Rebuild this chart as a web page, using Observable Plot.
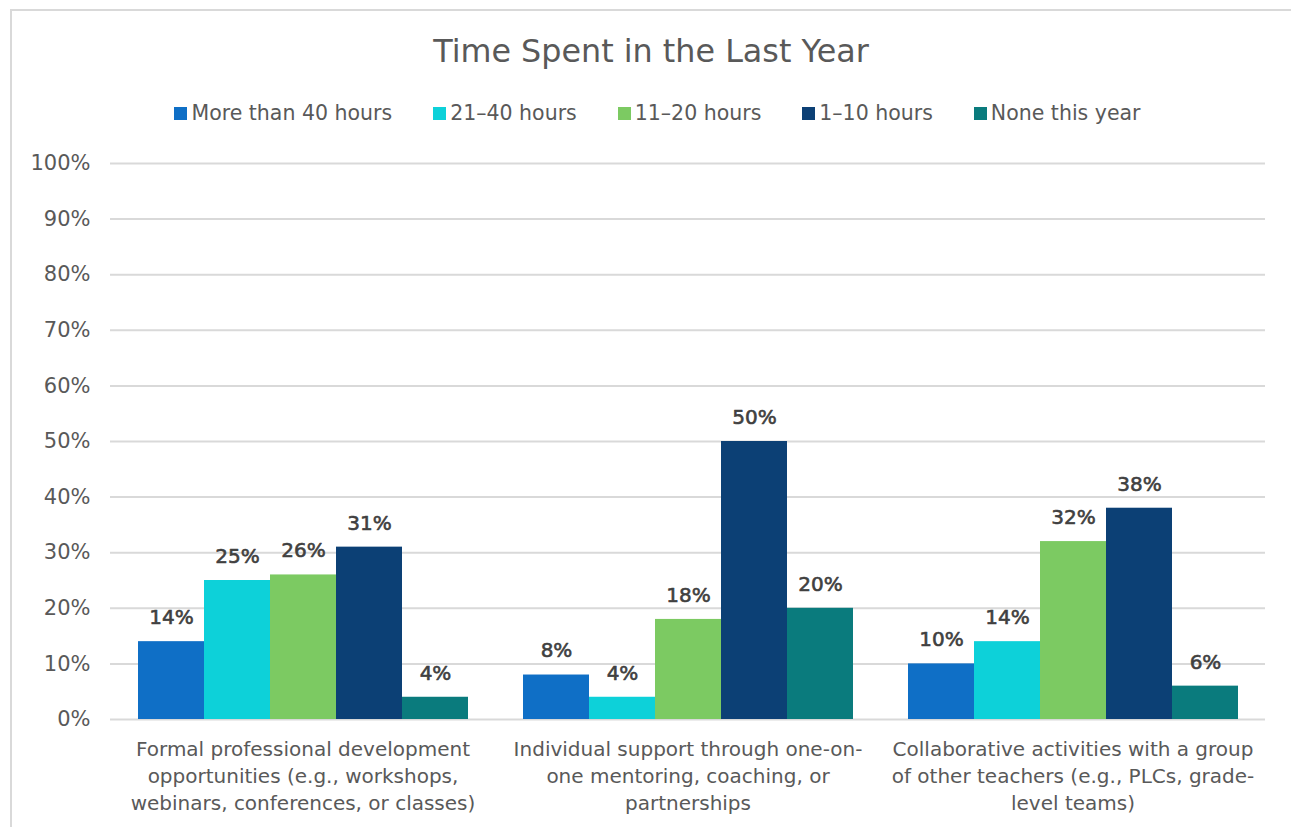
<!DOCTYPE html>
<html>
<head>
<meta charset="utf-8">
<script src="https://cdn.jsdelivr.net/npm/d3@7"></script>
<script src="https://cdn.jsdelivr.net/npm/@observablehq/plot@0.6"></script>
<style>
  html, body { margin: 0; padding: 0; background: #fff; }
  #wrap { position: relative; width: 1291px; height: 827px; overflow: hidden; font-family: 'DejaVu Sans', sans-serif; }
  #frame { position: absolute; left: 10px; top: 9px; width: 1300px; height: 830px; border-top: 2px solid #d9d9d9; border-left: 2px solid #d9d9d9; box-sizing: border-box; }
  #title { position: absolute; left: 11px; right: 0; top: 34px; line-height: 34px; font-size: 31.8px; color: #595959; text-align: center; }
  #legend { position: absolute; left: 24px; right: 0; top: 102px; display: flex; justify-content: center; gap: 41px; font-size: 20.5px; line-height: 22px; color: #595959; }
  #legend .item { display: flex; align-items: center; white-space: nowrap; }
  #legend .sw { width: 13px; height: 13px; margin-right: 4px; }
  #chart { position: absolute; left: 0; top: 140px; }
</style>
</head>
<body>
<div id="wrap">
  <div id="frame"></div>
  <div id="title">Time Spent in the Last Year</div>
  <div id="legend"></div>
  <div id="chart"></div>
</div>
<script>
const categories = [
  "Formal professional development\nopportunities (e.g., workshops,\nwebinars, conferences, or classes)",
  "Individual support through one-on-\none mentoring, coaching, or\npartnerships",
  "Collaborative activities with a group\nof other teachers (e.g., PLCs, grade-\nlevel teams)"
];
const series = ["More than 40 hours", "21–40 hours", "11–20 hours", "1–10 hours", "None this year"];
const formalValues = [0.14, 0.25, 0.26, 0.31, 0.04];
const individualValues = [0.08, 0.04, 0.18, 0.50, 0.20];
const collaborativeValues = [0.10, 0.14, 0.32, 0.38, 0.06];
const colors = ["#0F6FC6", "#0DD1D9", "#7CCA62", "#0C4075", "#0A7B7D"];
const yTicks = [0, 0.1, 0.2, 0.3, 0.4, 0.5, 0.6, 0.7, 0.8, 0.9, 1.0];

const valuesByCategory = [formalValues, individualValues, collaborativeValues];
const data = [];
categories.forEach((c, i) => {
  series.forEach((s, j) => data.push({category: c, series: s, value: valuesByCategory[i][j]}));
});

// legend
const legend = document.getElementById("legend");
series.forEach((s, i) => {
  const item = document.createElement("div");
  item.className = "item";
  const sw = document.createElement("span");
  sw.className = "sw";
  sw.style.background = colors[i];
  const label = document.createElement("span");
  label.textContent = s;
  item.append(sw, label);
  legend.append(item);
});

const fmt = d3.format(".0%");

const chart = Plot.plot({
  width: 1291,
  height: 687,
  marginTop: 23,
  marginBottom: 108,
  marginLeft: 110,
  marginRight: 26,
  style: {fontFamily: "'DejaVu Sans', sans-serif", fontSize: "20px", color: "#595959", background: "transparent"},
  fx: {domain: categories, padding: 0, axis: null},
  x: {domain: series, paddingInner: 0, paddingOuter: 0.38, axis: null},
  y: {domain: [0, 1], axis: null},
  color: {domain: series, range: colors},
  marks: [
    Plot.gridY(yTicks, {stroke: "#d9d9d9", strokeOpacity: 1, strokeWidth: 2}),
    Plot.axisY(yTicks, {anchor: "left", tickSize: 0, tickPadding: 20, tickFormat: fmt, label: null, fontSize: 21, fill: "#595959"}),
    Plot.barY(data, {fx: "category", x: "series", y: "value", fill: "series"}),
    Plot.text(data, {fx: "category", x: "series", y: "value", text: d => fmt(d.value), dy: -24, fontSize: 20, fill: "#404040", stroke: "#404040", strokeWidth: 0.6}),
    Plot.axisFx({anchor: "bottom", tickSize: 0, tickPadding: 17, label: null, fontSize: 20, lineHeight: 1.35, fill: "#595959"})
  ]
});
document.getElementById("chart").append(chart);
</script>
</body>
</html>
